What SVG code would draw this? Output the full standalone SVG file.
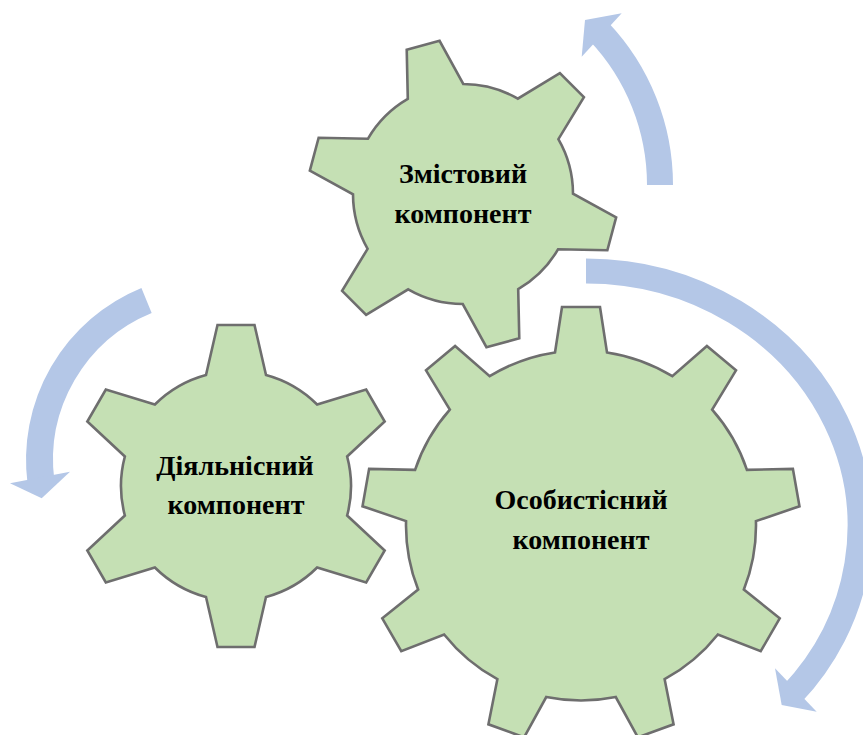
<svg xmlns="http://www.w3.org/2000/svg" width="863" height="735" viewBox="0 0 863 735">
  <style>
    .gear { fill: #c5e0b4; stroke: #6e6e6e; stroke-width: 2.6; stroke-linejoin: miter; }
    .label { font-family: "Liberation Serif", "Times New Roman", serif; font-weight: bold; font-size: 28px; fill: #000; text-anchor: middle; }
    .arc { fill: none; stroke: #b4c7e7; stroke-linecap: butt; }
    .head { fill: #b4c7e7; stroke: none; }
  </style>

  <!-- curved rotation arrows around the gears -->
  <g id="connectors">
    <g id="arrow-top">
      <path class="arc" stroke-width="26" d="M 660 185 A 223 223 0 0 0 598.8 31.5"/>
      <polygon class="head" points="585,20 621.7,13.3 581.7,56.7"/>
    </g>
    <g id="arrow-right">
      <path class="arc" stroke-width="25" d="M 586 271 A 274 255 0 0 1 791.2 695"/>
      <polygon class="head" points="775,668.3 816.7,711.7 781.7,705"/>
    </g>
    <g id="arrow-left">
      <path class="arc" stroke-width="27" d="M 146.55 300.4 A 172.5 172.5 0 0 0 41 482.5"/>
      <polygon class="head" points="10,483.3 70,471.7 41.7,498.3"/>
    </g>
  </g>

  <!-- six-tooth gear, top -->
  <g id="gear-zmistovyi">
    <path class="gear" d="M 407.8 98.86 L 406.72 49.65 L 439.56 40.85 L 463.24 84
      A 110 110 0 0 1 517.8 98.62 L 559.87 73.09 L 583.91 97.13 L 558.38 139.2
      A 110 110 0 0 1 573 193.76 L 616.15 217.44 L 607.35 250.28 L 558.14 249.2
      A 110 110 0 0 1 518.2 289.14 L 519.28 338.35 L 486.44 347.15 L 462.76 304
      A 110 110 0 0 1 408.2 289.38 L 366.13 314.91 L 342.09 290.87 L 367.62 248.8
      A 110 110 0 0 1 353 194.24 L 309.85 170.56 L 318.65 137.72 L 367.86 138.8
      A 110 110 0 0 1 407.8 98.86 Z"/>
    <text class="label" x="463" y="183">Змістовий</text>
    <text class="label" x="463" y="223">компонент</text>
  </g>

  <!-- six-tooth gear, left -->
  <g id="gear-diialnisnyi">
    <path class="gear" d="M 206 374.98 L 217.5 325 L 254.5 325 L 266 374.98
      A 115 115 0 0 1 317.14 404.51 L 366.18 389.48 L 384.68 421.52 L 347.14 456.47
      A 115 115 0 0 1 347.14 515.53 L 384.68 550.48 L 366.18 582.52 L 317.14 567.49
      A 115 115 0 0 1 266 597.02 L 254.5 647 L 217.5 647 L 206 597.02
      A 115 115 0 0 1 154.86 567.49 L 105.82 582.52 L 87.32 550.48 L 124.86 515.53
      A 115 115 0 0 1 124.86 456.47 L 87.32 421.52 L 105.82 389.48 L 154.86 404.51
      A 115 115 0 0 1 206 374.98 Z"/>
    <text class="label" x="235" y="475">Діяльнісний</text>
    <text class="label" x="236" y="514">компонент</text>
  </g>

  <!-- nine-tooth gear, bottom right -->
  <g id="gear-osobystisnyi">
    <path class="gear" d="M 555 352.44 L 562 307 L 600 307 L 607 352.44
      A 175 175 0 0 1 672.32 376.23 L 706.9 345.92 L 736 370.34 L 712.16 409.65
      A 175 175 0 0 1 746.92 469.86 L 792.88 468.86 L 799.48 506.28 L 755.94 521.06
      A 175 175 0 0 1 743.87 589.51 L 779.72 618.3 L 760.72 651.2 L 717.87 634.55
      A 175 175 0 0 1 664.62 679.23 L 673.58 724.32 L 637.88 737.32 L 615.76 697.01
      A 175 175 0 0 1 546.24 697.01 L 524.12 737.32 L 488.42 724.32 L 497.38 679.23
      A 175 175 0 0 1 444.13 634.55 L 401.28 651.2 L 382.28 618.3 L 418.13 589.51
      A 175 175 0 0 1 406.06 521.06 L 362.52 506.28 L 369.12 468.86 L 415.08 469.86
      A 175 175 0 0 1 449.84 409.65 L 426 370.34 L 455.1 345.92 L 489.68 376.23
      A 175 175 0 0 1 555 352.44 Z"/>
    <text class="label" x="581" y="509">Особистісний</text>
    <text class="label" x="581" y="549">компонент</text>
  </g>
</svg>
